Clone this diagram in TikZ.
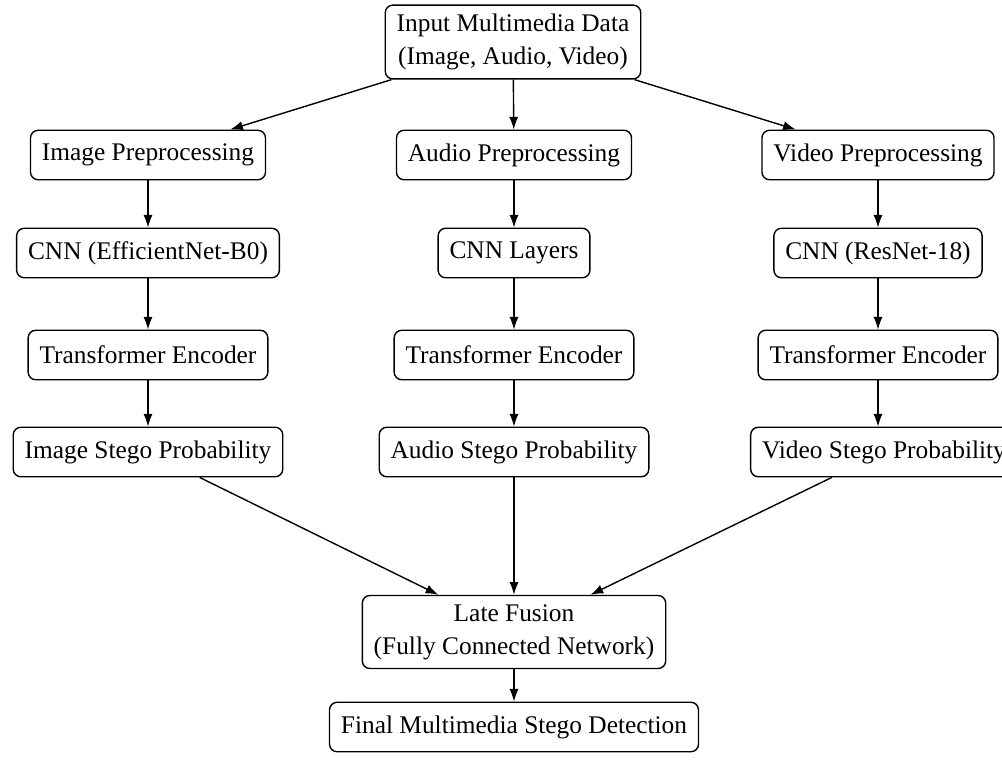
\documentclass[tikz,border=0pt]{standalone}
\usepackage{fontspec}
\setmainfont{Liberation Serif}
\usetikzlibrary{arrows.meta}
\begin{document}
\begin{tikzpicture}[x=0.394pt,y=-0.394pt,
  box/.style={draw, rounded corners=3pt, align=center, inner xsep=4.5pt, inner ysep=3.5pt,
    minimum height=19.5pt, font=\fontsize{10}{13}\selectfont, line width=0.55pt, fill=white},
  arr/.style={-{Latex[length=5pt,width=3.6pt]}, line width=0.55pt}]
\useasboundingbox (0,0) rectangle (1002,767);
\node[box] (in) at (513,42) {Input Multimedia Data\\(Image, Audio, Video)};
\node[box] (ip) at (148,155) {Image Preprocessing};
\node[box] (ap) at (514,155) {Audio Preprocessing};
\node[box] (vp) at (878,155) {Video Preprocessing};
\node[box] (ic) at (148,253) {CNN (EfficientNet-B0)};
\node[box] (ac) at (514,253) {CNN Layers};
\node[box] (vc) at (878,253) {CNN (ResNet-18)};
\node[box] (it) at (148,355) {Transformer Encoder};
\node[box] (at) at (514,355) {Transformer Encoder};
\node[box] (vt) at (878,355) {Transformer Encoder};
\node[box] (is) at (148,452) {Image Stego Probability};
\node[box] (as) at (514,452) {Audio Stego Probability};
\node[box] (vs) at (884,452) {Video Stego Probability};
\node[box] (lf) at (514,632) {Late Fusion\\(Fully Connected Network)};
\node[box] (fd) at (514,727) {Final Multimedia Stego Detection};
\draw[arr] (in) -- (ip);
\draw[arr] (in) -- (ap);
\draw[arr] (in) -- (vp);
\draw[arr] (ip) -- (ic);
\draw[arr] (ap) -- (ac);
\draw[arr] (vp) -- (vc);
\draw[arr] (ic) -- (it);
\draw[arr] (ac) -- (at);
\draw[arr] (vc) -- (vt);
\draw[arr] (it) -- (is);
\draw[arr] (at) -- (as);
\draw[arr] (vt) -- (vt |- vs.north);
\draw[arr] (is) -- (lf);
\draw[arr] (as) -- (lf);
\draw[arr] (vs) -- (lf);
\draw[arr] (lf) -- (fd);
\end{tikzpicture}
\end{document}
